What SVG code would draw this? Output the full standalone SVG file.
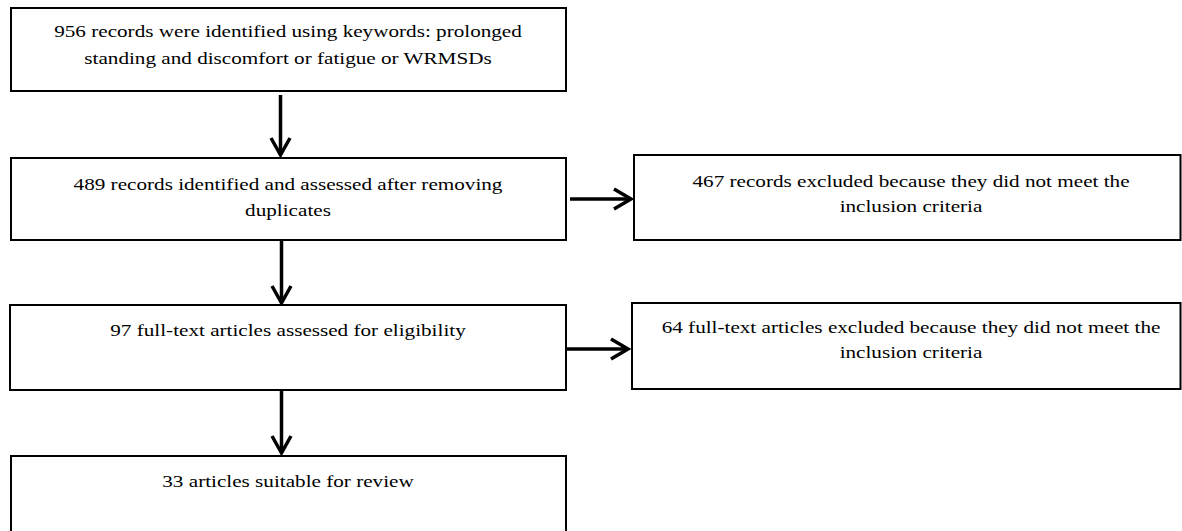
<svg xmlns="http://www.w3.org/2000/svg" width="1182" height="531" viewBox="0 0 1182 531">
<style>
.box{fill:#fff;stroke:#000;stroke-width:2}
.t{font-family:"Liberation Serif","Times New Roman",serif;font-size:17.5px;fill:#000;text-anchor:middle}
.c{fill:none;stroke:#000;stroke-width:3.5}
</style>
<rect width="1182" height="531" fill="#fff"/>
<g id="connectors">
<path class="c" d="M280.5 95V155"/>
<path class="c" d="M271 138L280.5 155L290 138"/>
<path class="c" d="M281.5 241V303"/>
<path class="c" d="M272 286L281.5 303L291 286"/>
<path class="c" d="M281.5 391V453"/>
<path class="c" d="M272 436L281.5 453L291 436"/>
<path class="c" d="M570 199H631"/>
<path class="c" d="M614 189L631 199L614 209"/>
<path class="c" d="M567 349H628"/>
<path class="c" d="M611 339L628 349L611 359"/>
</g>
<g id="n1">
<rect class="box" x="11" y="8" width="555" height="83"/>
<text class="t" transform="translate(288,37) scale(1.21,1)">956 records were identified using keywords: prolonged</text>
<text class="t" transform="translate(288,64) scale(1.21,1)">standing and discomfort or fatigue or WRMSDs</text>
</g>
<g id="n2">
<rect class="box" x="11" y="158" width="555" height="82"/>
<text class="t" transform="translate(288,190) scale(1.21,1)">489 records identified and assessed after removing</text>
<text class="t" transform="translate(288,216) scale(1.21,1)">duplicates</text>
</g>
<g id="n3">
<rect class="box" x="634" y="155" width="546.5" height="85"/>
<text class="t" transform="translate(911,187) scale(1.21,1)">467 records excluded because they did not meet the</text>
<text class="t" transform="translate(911,212) scale(1.21,1)">inclusion criteria</text>
</g>
<g id="n4">
<rect class="box" x="10" y="305" width="556" height="85"/>
<text class="t" transform="translate(288,336) scale(1.21,1)">97 full-text articles assessed for eligibility</text>
</g>
<g id="n5">
<rect class="box" x="632" y="303" width="548.5" height="86"/>
<text class="t" transform="translate(911,333) scale(1.21,1)">64 full-text articles excluded because they did not meet the</text>
<text class="t" transform="translate(911,358) scale(1.21,1)">inclusion criteria</text>
</g>
<g id="n6">
<rect class="box" x="11" y="456" width="555" height="90"/>
<text class="t" transform="translate(288,487) scale(1.21,1)">33 articles suitable for review</text>
</g>
</svg>
